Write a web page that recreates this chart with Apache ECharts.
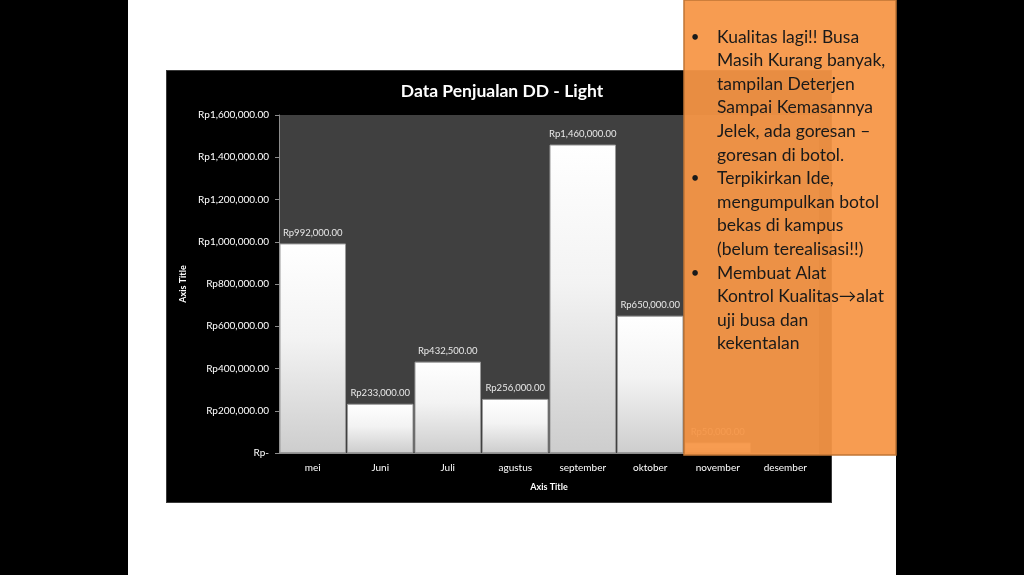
<!DOCTYPE html>
<html>
<head>
<meta charset="utf-8">
<script src="https://cdn.jsdelivr.net/npm/echarts@6/dist/echarts.min.js"></script>
<style>
html,body{margin:0;padding:0;background:#000;}
#wrap{position:relative;width:1024px;height:575px;background:#000;overflow:hidden;}
#slide{position:absolute;left:128px;top:0;width:768px;height:575px;background:#fff;}
#chartbg{position:absolute;left:166px;top:70px;width:666px;height:433px;background:#000;box-sizing:border-box;border:1px solid #3a3a3a;}
#chart{position:absolute;left:0;top:0;width:1024px;height:575px;}
</style>
</head>
<body>
<div id="wrap">
<div id="slide"></div>
<div id="chartbg"></div>
<div id="chart"></div>
</div>
<script>
var chartTitle = 'Data Penjualan DD - Light';
var categories = ['mei','Juni','Juli','agustus','september','oktober','november','desember'];
var sales = [992000, 233000, 432500, 256000, 1460000, 650000, 50000, null];
var yTicks = [0, 200000, 400000, 600000, 800000, 1000000, 1200000, 1400000, 1600000];
var axisTitleX = 'Axis Title';
var axisTitleY = 'Axis Title';
var noteLines = [
  {bullet:true,  text:'Kualitas lagi!! Busa'},
  {bullet:false, text:'Masih Kurang banyak,'},
  {bullet:false, text:'tampilan Deterjen'},
  {bullet:false, text:'Sampai Kemasannya'},
  {bullet:false, text:'Jelek, ada goresan \u2013'},
  {bullet:false, text:'goresan di botol.'},
  {bullet:true,  text:'Terpikirkan Ide,'},
  {bullet:false, text:'mengumpulkan botol'},
  {bullet:false, text:'bekas di kampus'},
  {bullet:false, text:'(belum terealisasi!!)'},
  {bullet:true,  text:'Membuat Alat'},
  {bullet:false, text:'Kontrol Kualitas\u2192alat'},
  {bullet:false, text:'uji busa dan'},
  {bullet:false, text:'kekentalan'}
];

function rp(v){
  if (v === 0) return 'Rp-';
  return 'Rp' + v.toLocaleString('en-US', {minimumFractionDigits:2, maximumFractionDigits:2});
}

var FONT = 'Lato, "Open Sans", sans-serif';
var chart = echarts.init(document.getElementById('chart'));

var noteChildren = [{
  type:'rect', z:100, zlevel:1,
  shape:{x:684, y:0, width:212, height:455},
  style:{fill:'rgba(247,150,70,0.94)', stroke:'#c07636', lineWidth:1.5}
}];
var lineY0 = 37, lineH = 23.6;
noteLines.forEach(function(l, i){
  var y = lineY0 + i*lineH;
  if (l.bullet) {
    noteChildren.push({type:'text', z:101, zlevel:1, x:695, y:y, style:{text:'\u2022', fill:'#1a1a1a', font:'15px ' + FONT, textAlign:'center', textVerticalAlign:'middle'}});
  }
  noteChildren.push({type:'text', z:101, zlevel:1, x:717, y:y, style:{text:l.text, fill:'#1a1a1a', font:'17.5px ' + FONT, textAlign:'left', textVerticalAlign:'middle'}});
});

chart.setOption({
  backgroundColor:'transparent',
  animation:false,
  textStyle:{fontFamily:FONT},
  title:{
    text:chartTitle, left:497, top:77, textAlign:'center',
    textStyle:{color:'#fff', fontSize:17.5, fontWeight:'bold', fontFamily:FONT}
  },
  grid:{
    left:279, top:115, width:540, height:338,
    show:true, backgroundColor:'#404040', borderWidth:0
  },
  xAxis:{
    type:'category', data:categories,
    name:axisTitleX, nameLocation:'middle', nameGap:30,
    nameTextStyle:{color:'#fff', fontSize:9, fontWeight:'bold', fontFamily:FONT},
    axisLine:{lineStyle:{color:'#8c8c8c'}},
    axisTick:{show:false},
    axisLabel:{color:'#fff', fontSize:10, margin:10, fontFamily:FONT}
  },
  yAxis:{
    type:'value', min:0, max:1600000, interval:200000,
    name:axisTitleY, nameLocation:'middle', nameGap:90, nameRotate:90,
    nameTextStyle:{color:'#fff', fontSize:9, fontWeight:'bold', fontFamily:FONT},
    axisLine:{show:true, lineStyle:{color:'#8c8c8c'}},
    axisTick:{show:true, length:4, lineStyle:{color:'#8c8c8c'}},
    splitLine:{show:false},
    axisLabel:{color:'#fff', fontSize:10, margin:10, fontFamily:FONT, formatter:function(v){return rp(v);}}
  },
  series:[{
    type:'bar', data:sales, barCategoryGap:'1.5%',
    itemStyle:{
      color:new echarts.graphic.LinearGradient(0,0,0,1,[
        {offset:0, color:'#ffffff'},
        {offset:0.45, color:'#f3f3f3'},
        {offset:1, color:'#cdcdcd'}
      ]),
      borderColor:'#9a9a9a', borderWidth:1
    },
    label:{show:true, position:'top', distance:6, color:'#e8e8e8', fontSize:9.5, fontFamily:FONT,
      formatter:function(p){return p.value == null ? '' : rp(p.value);}}
  }],
  graphic:[{type:'group', children:noteChildren}]
});
</script>
</body>
</html>
